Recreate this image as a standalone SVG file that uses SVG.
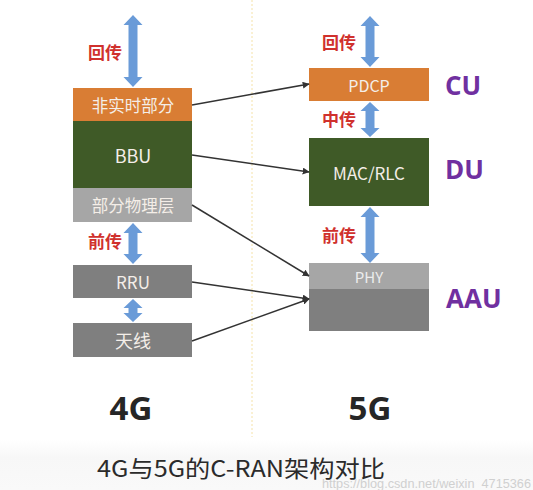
<svg xmlns="http://www.w3.org/2000/svg" width="533" height="490" viewBox="0 0 533 490">
<defs>
<style>
.box-or{fill:#D97D34}
.box-gr{fill:#3F5A27}
.box-lg{fill:#A6A6A6}
.box-dg{fill:#7F7F7F}
.bt{font-family:"Noto Sans CJK SC","Noto Sans",sans-serif;fill:#F4EEE8;text-anchor:middle;dominant-baseline:central}
.red{font-family:"Noto Sans CJK SC",sans-serif;fill:#D0312D;font-size:17px;text-anchor:middle;font-weight:bold}
.purple{font-family:"Open Sans","Liberation Sans",sans-serif;fill:#7030A0;font-size:26px;font-weight:bold}
.gen{font-family:"Open Sans","Liberation Sans",sans-serif;fill:#262626;font-size:33px;font-weight:bold;text-anchor:middle}
.barrow{fill:#6A9BD8}
.conn{stroke:#333;stroke-width:1.5;fill:none;marker-end:url(#ah)}
</style>
<marker id="ah" viewBox="0 0 10 10" refX="9" refY="5" markerWidth="7" markerHeight="7" markerUnits="userSpaceOnUse" orient="auto">
<path d="M0,0 L10,5 L0,10 Z" fill="#333"/>
</marker>
<linearGradient id="bg" x1="0" y1="0" x2="0" y2="1">
<stop offset="0" stop-color="#ffffff"/>
<stop offset="0.35" stop-color="#f7f7f7"/>
<stop offset="1" stop-color="#f9f9f9"/>
</linearGradient>
</defs>
<rect x="0" y="0" width="533" height="490" fill="#fff"/>
<rect x="0" y="440" width="533" height="50" fill="url(#bg)"/>
<line x1="252" y1="0" x2="252" y2="437" stroke="#F5E2A8" stroke-width="1" stroke-dasharray="2 2"/>

<g id="arrows-blue">
<path class="barrow" d="M133,15 L142.5,25 L137.5,25 L137.5,77 L142.5,77 L133,87 L123.5,77 L128.5,77 L128.5,25 L123.5,25 Z"/>
<path class="barrow" d="M133,223 L142.5,233 L137.5,233 L137.5,254 L142.5,254 L133,264 L123.5,254 L128.5,254 L128.5,233 L123.5,233 Z"/>
<path class="barrow" d="M133,299 L142.5,308 L137.5,308 L137.5,313 L142.5,313 L133,322 L123.5,313 L128.5,313 L128.5,308 L123.5,308 Z"/>
<path class="barrow" d="M370,16 L379.5,26 L374.5,26 L374.5,57 L379.5,57 L370,67 L360.5,57 L365.5,57 L365.5,26 L360.5,26 Z"/>
<path class="barrow" d="M370,102 L379.5,111 L374.5,111 L374.5,128 L379.5,128 L370,137 L360.5,128 L365.5,128 L365.5,111 L360.5,111 Z"/>
<path class="barrow" d="M370,207 L379.5,217 L374.5,217 L374.5,253 L379.5,253 L370,263 L360.5,253 L365.5,253 L365.5,217 L360.5,217 Z"/>
</g>

<g id="labels-red">
<text class="red" x="105" y="59">回传</text>
<text class="red" x="105" y="248">前传</text>
<text class="red" x="339" y="49">回传</text>
<text class="red" x="339" y="126">中传</text>
<text class="red" x="339" y="242">前传</text>
</g>

<g id="n-nrt"><rect class="box-or" x="73" y="88" width="119" height="33"/><text class="bt" x="133" y="104.5" font-size="16.5">非实时部分</text></g>
<g id="n-bbu"><rect class="box-gr" x="73" y="121" width="119" height="67"/><text class="bt" x="133" y="155" font-size="18">BBU</text></g>
<g id="n-phy4g"><rect class="box-lg" x="73" y="188" width="119" height="34"/><text class="bt" x="133" y="205" font-size="16.5">部分物理层</text></g>
<g id="n-rru"><rect class="box-dg" x="73" y="265" width="119" height="33"/><text class="bt" x="133" y="281.5" font-size="17">RRU</text></g>
<g id="n-ant"><rect class="box-dg" x="73" y="323" width="119" height="34"/><text class="bt" x="133" y="340" font-size="18">天线</text></g>

<g id="n-pdcp"><rect class="box-or" x="309" y="68" width="120" height="33"/><text class="bt" x="369" y="84.5" font-size="16">PDCP</text></g>
<g id="n-mac"><rect class="box-gr" x="309" y="138" width="120" height="68"/><text class="bt" x="369" y="172" font-size="17">MAC/RLC</text></g>
<g id="n-aau">
<rect class="box-lg" x="309" y="263" width="120" height="26"/>
<rect class="box-dg" x="309" y="289" width="120" height="42"/>
<text class="bt" x="369" y="276" font-size="15" style="fill:#ECECEC">PHY</text>
</g>

<g id="connectors">
<line class="conn" x1="192" y1="105" x2="309" y2="84"/>
<line class="conn" x1="192" y1="155" x2="309" y2="172"/>
<line class="conn" x1="192" y1="205" x2="309" y2="276"/>
<line class="conn" x1="192" y1="282" x2="309" y2="299"/>
<line class="conn" x1="192" y1="341" x2="309" y2="299"/>
</g>

<g id="tags">
<text class="purple" x="445" y="95">CU</text>
<text class="purple" x="445" y="179">DU</text>
<text class="purple" x="446" y="308">AAU</text>
<text class="gen" x="131" y="420">4G</text>
<text class="gen" x="370" y="420">5G</text>
</g>

<text x="97" y="477" font-family="'Noto Sans CJK SC','Noto Sans',sans-serif" font-size="23" fill="#2b2b2b" textLength="288" lengthAdjust="spacingAndGlyphs">4G与5G的C-RAN架构对比</text>
<text x="322" y="488" font-family="'Liberation Sans',sans-serif" font-size="12" fill="#d0d0d0" textLength="209" lengthAdjust="spacingAndGlyphs">https://blog.csdn.net/weixin_4715366</text>
</svg>
